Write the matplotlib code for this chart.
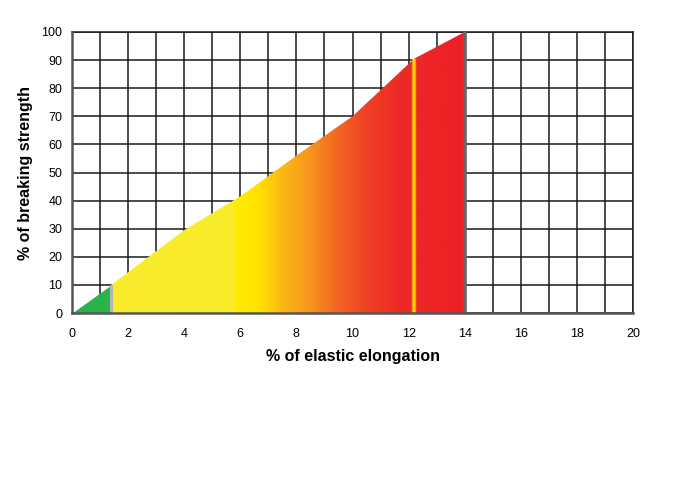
import numpy as np
import matplotlib
matplotlib.use("Agg")
import matplotlib.pyplot as plt
from matplotlib.colors import LinearSegmentedColormap
from matplotlib.patches import Polygon

plt.rcParams["font.family"] = ["Liberation Sans", "DejaVu Sans"]

# curve
elongation = [0, 1.4, 4, 6, 8, 10, 12.2, 14]
strength = [0, 10, 29.5, 41.5, 56, 70, 90.5, 100]
elastic_limit = 1.4   # end of green zone
marker_x = 12.2       # yellow marker line
break_x = 14          # breaking point

x_ticks = list(range(0, 21, 2))
y_ticks = list(range(0, 101, 10))

# colour stops of the gradient (x position, colour)
grad_stops = [(1.4, "#F8EC2E"), (5.75, "#F9EC2C"), (5.85, "#FFEC00"),
              (6.6, "#FFE400"), (7.5, "#FBB817"), (8.5, "#F7941D"),
              (9.5, "#F26522"), (10.5, "#EF4124"), (11.7, "#ED2A26"),
              (14, "#ED1F26")]

fig = plt.figure(figsize=(6.74, 5.0), dpi=100)
ax = fig.add_axes([72 / 674, 1 - 313 / 500, (633 - 72) / 674, (313 - 32) / 500])
ax.set_xlim(0, 20)
ax.set_ylim(0, 100)

# grid
ax.set_xticks(x_ticks)
ax.set_xticks(range(0, 21), minor=True)
ax.set_yticks(y_ticks)
ax.grid(True, which="both", color="#1a1a1a", lw=1.1, zorder=0)
ax.set_axisbelow(True)
ax.tick_params(which="both", length=0, labelsize=9, colors="black")
ax.tick_params(axis="x", pad=10.5)
ax.tick_params(axis="y", pad=7)

# green zone
xs = np.array(elongation, dtype=float)
ys = np.array(strength, dtype=float)
g = xs <= elastic_limit
ax.fill_between(xs[g], 0, ys[g], color="#2AB24B", lw=0, zorder=2)

# gradient zone clipped by curve
m = xs >= elastic_limit
verts = list(zip(xs[m], ys[m])) + [(break_x, 0), (elastic_limit, 0)]
poly = Polygon(verts, closed=True, facecolor="none", edgecolor="none",
               transform=ax.transData)
ax.add_patch(poly)
lo, hi = elastic_limit, break_x
cmap = LinearSegmentedColormap.from_list(
    "elong", [((p - lo) / (hi - lo), c) for p, c in grad_stops])
grad = np.linspace(0, 1, 600).reshape(1, -1)
im = ax.imshow(grad, cmap=cmap, aspect="auto", extent=[lo, hi, 0, 100],
               origin="lower", interpolation="bilinear", zorder=2)
im.set_clip_path(poly)

# separator lines
y_el = np.interp(elastic_limit, xs, ys)
ax.plot([elastic_limit, elastic_limit], [0, y_el], color="#B5B5B5", lw=2.2,
        zorder=3, solid_capstyle="butt")
y_mk = np.interp(marker_x, xs, ys)
ax.plot([marker_x, marker_x], [0, y_mk], color="#F7941D", lw=3.2, zorder=3,
        solid_capstyle="butt")
ax.plot([marker_x, marker_x], [0, y_mk], color="#FFD400", lw=1.6, zorder=3,
        solid_capstyle="butt")
ax.plot([break_x, break_x], [0, 100], color="#666666", lw=2.6, zorder=3,
        solid_capstyle="butt")

for side in ["left", "bottom"]:
    ax.spines[side].set_color("#555555")
    ax.spines[side].set_linewidth(1.8)
    ax.spines[side].set_zorder(4)
for side in ["top", "right"]:
    ax.spines[side].set_color("#1a1a1a")
    ax.spines[side].set_linewidth(1.1)

ax.set_xlabel("% of elastic elongation", fontsize=11.5, fontweight="bold",
              labelpad=7)
ax.set_ylabel("% of breaking strength", fontsize=11.5, fontweight="bold",
              labelpad=6)

fig.savefig("out.png", dpi=100)
